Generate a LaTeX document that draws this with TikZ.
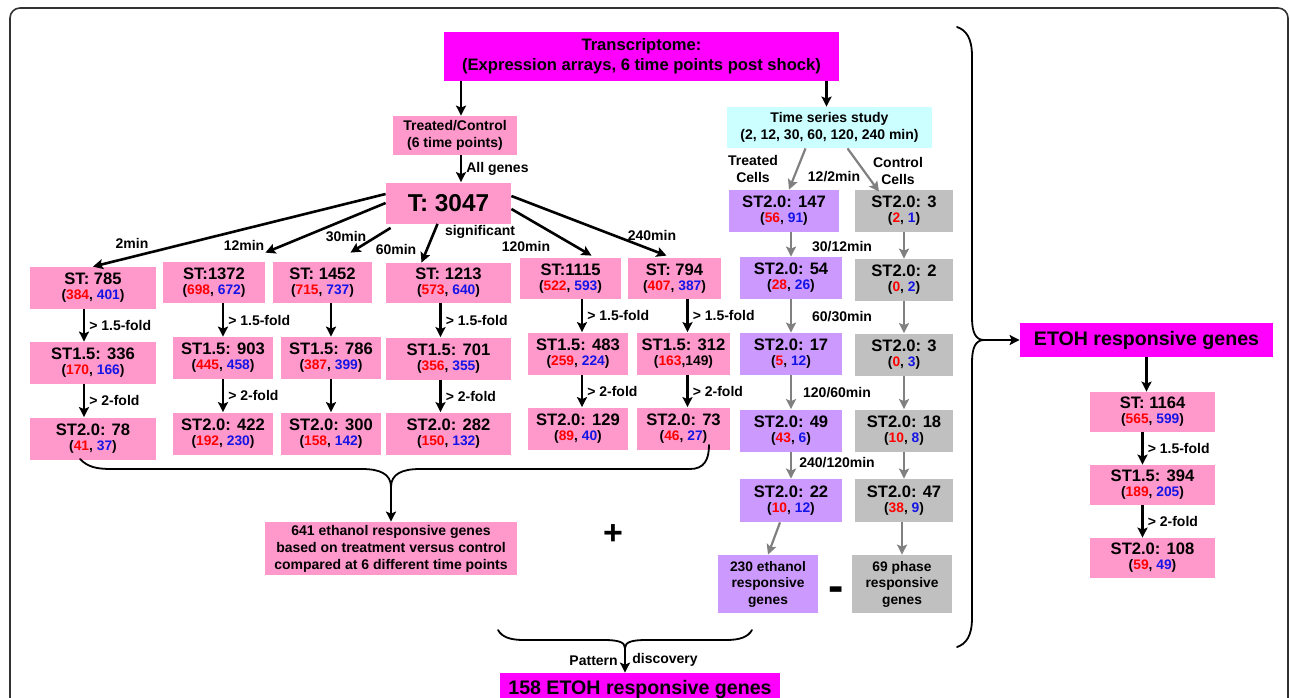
\documentclass[tikz,border=0pt]{standalone}
\usepackage{fontspec}
\setmainfont{Liberation Sans}
\usepackage{tikz}
\usetikzlibrary{positioning, arrows, arrows.meta}

\definecolor{etohmag}{RGB}{255,0,255}
\definecolor{stpink}{RGB}{255,153,204}
\definecolor{trlilac}{RGB}{204,153,255}
\definecolor{ctgrey}{RGB}{192,192,192}
\definecolor{tscyan}{RGB}{204,255,255}
\definecolor{upred}{RGB}{255,0,0}
\definecolor{downblue}{RGB}{20,20,230}
\definecolor{arrowgrey}{RGB}{128,128,128}
\definecolor{framegrey}{RGB}{50,50,50}

\newcommand{\updown}[2]{({\color{upred}#1}, {\color{downblue}#2})}
\newcommand{\stcount}[3]{#1\\{\fontsize{6.9}{7.5}\selectfont\updown{#2}{#3}}}

\begin{document}
\begin{tikzpicture}[x=0.5pt, y=-0.5pt,
    cbox/.style={inner sep=0pt, align=center, minimum height=21pt,
        font=\bfseries\fontsize{8.3}{7.5}\selectfont},
    stbox/.style={cbox, fill=stpink},
    trbox/.style={cbox, fill=trlilac},
    ctbox/.style={cbox, fill=ctgrey},
    magbox/.style={cbox, fill=etohmag, minimum height=17pt,
        font=\bfseries\fontsize{9.8}{11}\selectfont},
    small/.style={font=\bfseries\fontsize{7}{8.5}\selectfont},
    lbl/.style={small, inner sep=2pt},
    arr/.style={-{Stealth[length=5pt, width=5pt, inset=1pt]}, line width=1.3pt},
    garr/.style={-{Stealth[length=5pt, width=5pt, inset=1pt]}, line width=1.1pt, color=arrowgrey},
    brace/.style={line width=0.9pt, line cap=round}]
\useasboundingbox (0,0) rectangle (1290,697);
\draw[framegrey, line width=0.8pt, rounded corners=5pt] (10,8) rectangle (1288,740);

% top row
\node[magbox, minimum width=197.5pt, minimum height=24.5pt,
    font=\bfseries\fontsize{8.3}{10}\selectfont] (trans) at (641.5,56.5)
    {Transcriptome:\\(Expression arrays, 6 time points post shock)};
\node[stbox, small, minimum width=62pt, minimum height=19.5pt] (tc) at (455,135.5)
    {Treated/Control\\(6 time points)};
\node[stbox, minimum width=62.5pt, minimum height=20.5pt,
    font=\bfseries\fontsize{12.2}{14}\selectfont] (tall) at (448.5,203) {T: 3047};
\node[cbox, small, fill=tscyan, minimum width=102.5pt, minimum height=20.5pt] (ts) at (829.5,127.5)
    {Time series study\\(2, 12, 30, 60, 120, 240 min)};

% treated versus control, 6 time points
\node[stbox, minimum width=63pt] (st2) at (93,288) {\stcount{ST: 785}{384}{401}};
\node[stbox, minimum width=51pt, minimum height=20.5pt] (st12) at (214,282.5) {\stcount{ST:1372}{698}{672}};
\node[stbox, minimum width=49.5pt, minimum height=20.5pt] (st30) at (322.5,282.5) {\stcount{ST: 1452}{715}{737}};
\node[stbox, minimum width=62.5pt, minimum height=20pt] (st60) at (448.5,283) {\stcount{ST: 1213}{573}{640}};
\node[stbox, minimum width=50.5pt, minimum height=20.5pt] (st120) at (570.5,278.5) {\stcount{ST:1115}{522}{593}};
\node[stbox, minimum width=46.5pt, minimum height=20.5pt] (st240) at (674.5,278.5) {\stcount{ST: 794}{407}{387}};

\node[stbox, minimum width=63pt] (s15a) at (93,363) {\stcount{ST1.5: 336}{170}{166}};
\node[stbox, minimum width=50pt] (s15b) at (223,358) {\stcount{ST1.5: 903}{445}{458}};
\node[stbox, minimum width=50pt] (s15c) at (331,358) {\stcount{ST1.5: 786}{387}{399}};
\node[stbox, minimum width=62.5pt] (s15d) at (448.5,358.5) {\stcount{ST1.5: 701}{356}{355}};
\node[stbox, minimum width=50pt] (s15e) at (578,353.5) {\stcount{ST1.5: 483}{259}{224}};
\node[stbox, minimum width=46.5pt] (s15f) at (683.5,353.5)
    {ST1.5: 312\\{\fontsize{6.9}{7.5}\selectfont({\color{upred}163},149)}};

\node[stbox, minimum width=63pt] (s20a) at (93,438.5) {\stcount{ST2.0: 78}{41}{37}};
\node[stbox, minimum width=50pt] (s20b) at (223,433.5) {\stcount{ST2.0: 422}{192}{230}};
\node[stbox, minimum width=50pt] (s20c) at (331,433.5) {\stcount{ST2.0: 300}{158}{142}};
\node[stbox, minimum width=62.5pt] (s20d) at (448.5,433.5) {\stcount{ST2.0: 282}{150}{132}};
\node[stbox, minimum width=50pt] (s20e) at (578,428.5) {\stcount{ST2.0: 129}{89}{40}};
\node[stbox, minimum width=46.5pt] (s20f) at (683.5,428.5) {\stcount{ST2.0: 73}{46}{27}};

% time series, treated and control cells
\node[trbox, minimum width=55pt] (p1) at (784,211) {\stcount{ST2.0: 147}{56}{91}};
\node[trbox, minimum width=51pt] (p2) at (791,278) {\stcount{ST2.0: 54}{28}{26}};
\node[trbox, minimum width=51pt] (p3) at (791,354) {\stcount{ST2.0: 17}{5}{12}};
\node[trbox, minimum width=51pt] (p4) at (791,430.5) {\stcount{ST2.0: 49}{43}{6}};
\node[trbox, minimum width=51pt, minimum height=21.5pt] (p5) at (791,500.5) {\stcount{ST2.0: 22}{10}{12}};
\node[trbox, small, minimum width=50pt, minimum height=29pt,
    font=\bfseries\fontsize{6.9}{8.25}\selectfont] (p6) at (768,584) {230 ethanol\\responsive\\genes};

\node[ctbox, minimum width=49pt] (g1) at (904,211) {\stcount{ST2.0: 3}{2}{1}};
\node[ctbox, minimum width=49pt] (g2) at (904,280) {\stcount{ST2.0: 2}{0}{2}};
\node[ctbox, minimum width=49pt] (g3) at (904,354.5) {\stcount{ST2.0: 3}{0}{3}};
\node[ctbox, minimum width=49pt] (g4) at (904,430.5) {\stcount{ST2.0: 18}{10}{8}};
\node[ctbox, minimum width=49pt, minimum height=21.5pt] (g5) at (904,500.5) {\stcount{ST2.0: 47}{38}{9}};
\node[ctbox, minimum width=50pt, minimum height=29pt,
    font=\bfseries\fontsize{6.9}{8.25}\selectfont] (g6) at (902,584) {69 phase\\responsive\\genes};

% right hand side
\node[magbox, minimum width=126.5pt] (etoh) at (1146.5,340) {ETOH responsive genes};
\node[stbox, minimum width=62.5pt, minimum height=20pt] (r1) at (1152.5,412) {\stcount{ST: 1164}{565}{599}};
\node[stbox, minimum width=62.5pt, minimum height=20pt] (r2) at (1152.5,485) {\stcount{ST1.5: 394}{189}{205}};
\node[stbox, minimum width=62.5pt, minimum height=20pt] (r3) at (1152.5,558) {\stcount{ST2.0: 108}{59}{49}};

% bottom
\node[stbox, small, minimum width=126pt, minimum height=26.5pt] (b641) at (391,548.5)
    {641 ethanol responsive genes\\based on treatment versus control\\compared at 6 different time points};
\node[magbox, minimum width=140pt, minimum height=16.5pt] (final) at (640,689.5) {158 ETOH responsive genes};
\node[font=\bfseries\fontsize{17}{17}\selectfont, inner sep=0pt] (plus) at (613,535) {+};
\node[font=\bfseries\fontsize{23}{23}\selectfont, inner sep=0pt] (minus) at (836,594) {-};

% braces
\draw[brace] (80,459) .. controls (88,467) and (96,469) .. (112,469) -- (362,469)
    .. controls (380,469) and (391,474) .. (391,487) coordinate (ltip)
    .. controls (391,474) and (402,469) .. (420,469) -- (690,469)
    .. controls (704,469) and (709,460) .. (709,445);
\draw[brace] (498,630) .. controls (502,637) and (510,640) .. (524,640) -- (604,640)
    .. controls (618,640) and (625,642) .. (625,648) coordinate (btip)
    .. controls (625,642) and (632,640) .. (646,640) -- (726,640)
    .. controls (740,640) and (748,637) .. (752,630);
\draw[brace] (957,27) .. controls (966,30) and (972,38) .. (972,56) -- (972,318)
    .. controls (972,333) and (976,340) .. (984,340) coordinate (rtip)
    .. controls (976,340) and (972,347) .. (972,362) -- (972,618)
    .. controls (972,636) and (966,644) .. (957,647);

% arrows
\path[arr]
    ([xshift=3pt]trans.south -| tc.north) edge ([xshift=3pt]tc.north)
    ([xshift=-1.5pt]trans.south -| ts.north) edge ([xshift=-1.5pt]ts.north)
    ([xshift=3pt]tc.south) edge node[lbl, right] {All genes} ([xshift=3pt]tc.south |- tall.north)
    ([yshift=4.5pt]tall.west) edge (st2.north)
    ([yshift=0pt]tall.west) edge ([yshift=4.5pt]st12.north east)
    ([xshift=2.5pt, yshift=-2pt]tall.south west) edge ([xshift=14pt, yshift=4.5pt]st30.north)
    ([xshift=-5.5pt]tall.south) edge ([xshift=-13.5pt]st60.north)
    ([yshift=-3pt]tall.east) edge ([xshift=10.5pt, yshift=1pt]st120.north)
    ([yshift=3.5pt]tall.east) edge ([xshift=-4pt, yshift=1pt]st240.north);
\path[arr]
    ([xshift=-4.5pt]st2.south) edge node[lbl, right] {> 1.5-fold} ([xshift=-4.5pt]s15a.north)
    ([xshift=-4.5pt]s15a.south) edge node[lbl, right] {> 2-fold} ([xshift=-4.5pt]s20a.north)
    (st12.south -| s15b.north) edge node[lbl, right] {> 1.5-fold} (s15b.north)
    (s15b.south) edge node[lbl, right] {> 2-fold} (s20b.north)
    (st30.south -| s15c.north) edge (s15c.north)
    (s15c.south) edge (s20c.north)
    ([xshift=-4pt]st60.south) edge node[lbl, right] {> 1.5-fold} ([xshift=-4pt]s15d.north)
    ([xshift=-4pt]s15d.south) edge node[lbl, right] {> 2-fold} ([xshift=-4pt]s20d.north)
    ([xshift=2pt]st120.south -| s15e.north) edge node[lbl, right] {> 1.5-fold} ([xshift=2pt]s15e.north)
    ([xshift=2pt]s15e.south) edge node[lbl, right] {> 2-fold} ([xshift=2pt]s20e.north)
    ([xshift=2pt]st240.south -| s15f.north) edge node[lbl, right] {> 1.5-fold} ([xshift=2pt]s15f.north)
    ([xshift=2pt]s15f.south) edge node[lbl, right] {> 2-fold} ([xshift=2pt]s20f.north);
\path[arr]
    (etoh.south) edge (etoh.south |- r1.north)
    ([xshift=-5pt]r1.south) edge node[lbl, right] {> 1.5-fold} ([xshift=-5pt]r2.north)
    ([xshift=-5pt]r2.south) edge node[lbl, right] {> 2-fold} ([xshift=-5pt]r3.north)
    (ltip) edge (b641.north)
    (btip) edge node[lbl, left, inner sep=3pt] {Pattern} node[lbl, right, inner sep=3pt] {discovery} (btip |- final.north);
\path[arr, line width=1pt] (rtip) edge (etoh.west);
\path[garr]
    ([xshift=-12pt]ts.south) edge ([xshift=2.5pt]p1.north)
    ([xshift=9pt]ts.south) edge ([xshift=-12.5pt, yshift=-1pt]g1.north)
    (p1.south -| p2.north) edge (p2.north)
    (p2.south) edge (p3.north)
    (p3.south) edge (p4.north)
    (p4.south) edge (p5.north)
    ([xshift=-5.5pt]p5.south) edge (p6.north)
    (g1.south) edge (g2.north)
    (g2.south) edge (g3.north)
    (g3.south) edge (g4.north)
    (g4.south) edge (g5.north)
    ([xshift=-1pt]g5.south) edge ([xshift=-1pt]g5.south |- g6.north);

% time labels
\node[lbl] (l2) at (132,243) {2min};
\node[lbl] (l12) at (244,245) {12min};
\node[lbl] (l30) at (346,236) {30min};
\node[lbl] (l60) at (396,249) {60min};
\node[lbl] (lsig) at (480,232) {significant};
\node[lbl] (l120) at (526,246) {120min};
\node[lbl] (l240) at (652,235) {240min};
\node[lbl, align=center, font=\bfseries\fontsize{7}{8.5}\selectfont] (ltr) at (753,169) {Treated\\Cells};
\node[lbl, align=center, font=\bfseries\fontsize{7}{8.5}\selectfont] (lct) at (898,171) {Control\\Cells};
\node[lbl] (l122) at (834,177) {12/2min};
\node[lbl] (l3012) at (842,247) {30/12min};
\node[lbl] (l6030) at (842,317) {60/30min};
\node[lbl] (l12060) at (837,393) {120/60min};
\node[lbl] (l240120) at (837,463) {240/120min};
\end{tikzpicture}
\end{document}
